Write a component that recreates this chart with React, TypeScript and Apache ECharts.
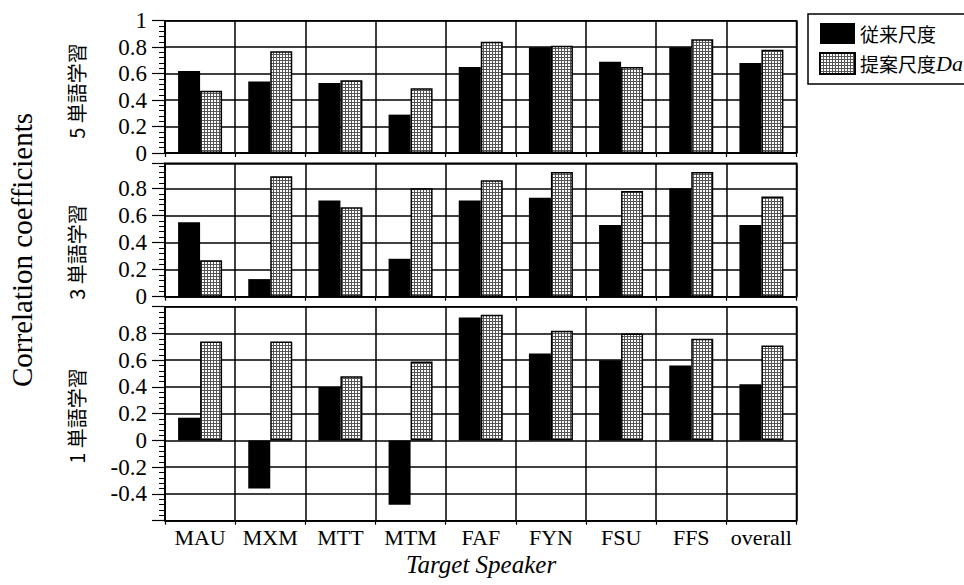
import React, { useEffect, useRef } from 'react';
import * as echarts from 'echarts';

const categories = ['MAU', 'MXM', 'MTT', 'MTM', 'FAF', 'FYN', 'FSU', 'FFS', 'overall'];
const seriesNames = ['従来尺度', '提案尺度Da'];
const panelLabels = ['5 単語学習', '3 単語学習', '1 単語学習'];

// 5-word training
const conventional5 = [0.62, 0.54, 0.53, 0.29, 0.65, 0.80, 0.69, 0.80, 0.68];
const proposed5 = [0.47, 0.77, 0.55, 0.49, 0.84, 0.81, 0.65, 0.86, 0.78];
// 3-word training
const conventional3 = [0.55, 0.13, 0.71, 0.28, 0.71, 0.73, 0.53, 0.80, 0.53];
const proposed3 = [0.27, 0.89, 0.66, 0.80, 0.86, 0.92, 0.78, 0.92, 0.74];
// 1-word training
const conventional1 = [0.17, -0.36, 0.40, -0.48, 0.92, 0.65, 0.60, 0.56, 0.42];
const proposed1 = [0.74, 0.74, 0.48, 0.59, 0.94, 0.82, 0.80, 0.76, 0.71];

const yMins = [0, 0, -0.6];
const yMaxs = [1, 0.985, 1];

const yTitle = 'Correlation coefficients';
const xTitle = 'Target Speaker';

const SERIF = "'Liberation Serif', 'Times New Roman', serif";
const CJK = "'Noto Sans CJK JP', 'Noto Sans', sans-serif";

export default function App() {
  const ref = useRef<HTMLDivElement>(null);

  useEffect(() => {
    document.body.style.margin = '0';
    const chart = echarts.init(ref.current as HTMLDivElement, undefined, { renderer: 'svg' });

    const cv = document.createElement('canvas');
    cv.width = 3;
    cv.height = 3;
    const ctx = cv.getContext('2d') as CanvasRenderingContext2D;
    ctx.fillStyle = '#ffffff';
    ctx.fillRect(0, 0, 3, 3);
    ctx.fillStyle = '#555555';
    ctx.fillRect(0, 0, 3, 1);
    ctx.fillRect(0, 0, 1, 3);
    const pattern: any = { image: cv, repeat: 'repeat' };

    const grids = [
      { left: 165, top: 20.7, width: 631.5, height: 132.3 },
      { left: 165, top: 163.3, width: 631.5, height: 133.4 },
      { left: 165, top: 306.7, width: 631.5, height: 214 },
    ].map((g) => ({ ...g, show: true, borderColor: '#000', borderWidth: 1.5, backgroundColor: 'transparent' }));

    const panelData = [
      [conventional5, proposed5],
      [conventional3, proposed3],
      [conventional1, proposed1],
    ];

    const xAxes = [0, 1, 2].map((i) => ({
      gridIndex: i,
      type: 'category',
      data: categories,
      axisLine: { show: true, onZero: false, lineStyle: { color: '#000', width: 1.5 } },
      axisTick: { show: true, length: 4, lineStyle: { color: '#000', width: 1.2 } },
      axisLabel: {
        show: i === 2,
        interval: 0,
        color: '#000',
        fontFamily: SERIF,
        fontSize: 22,
        margin: 6,
      },
      splitLine: { show: true, interval: 0, lineStyle: { color: '#000', width: 1.5 } },
    }));

    const yAxes = [0, 1, 2].map((i) => ({
      gridIndex: i,
      type: 'value',
      min: yMins[i],
      max: yMaxs[i],
      interval: 0.2,
      axisLine: { show: true, lineStyle: { color: '#000', width: 1.5 } },
      axisTick: { show: true, length: 13, lineStyle: { color: '#000', width: 1.2 } },
      minorTick: { show: true, splitNumber: 5, length: 6, lineStyle: { color: '#000', width: 1 } },
      splitLine: { show: true, lineStyle: { color: '#000', width: 1.5 } },
      axisLabel: {
        color: '#000',
        fontFamily: SERIF,
        fontSize: 23,
        margin: 18,
        showMinLabel: i !== 2,
        showMaxLabel: i === 0,
      },
    }));

    const series: any[] = [];
    panelData.forEach((pair, i) => {
      series.push({
        type: 'bar',
        name: seriesNames[0],
        xAxisIndex: i,
        yAxisIndex: i,
        data: pair[0],
        barWidth: 22,
        barGap: '0%',
        itemStyle: { color: '#000' },
      });
      series.push({
        type: 'bar',
        name: seriesNames[1],
        xAxisIndex: i,
        yAxisIndex: i,
        data: pair[1],
        barWidth: 22,
        barGap: '0%',
        itemStyle: { color: pattern, borderColor: '#000', borderWidth: 1.5 },
      });
    });

    const panelLabelY = [91, 252, 416];

    chart.setOption({
      animation: false,
      grid: grids,
      xAxis: xAxes,
      yAxis: yAxes,
      series,
      legend: {
        data: seriesNames,
        orient: 'vertical',
        left: 808,
        top: 14,
        itemWidth: 35,
        itemHeight: 21,
        itemGap: 8,
        padding: [9, 40, 9, 11],
        borderColor: '#000',
        borderWidth: 1.5,
        icon: 'rect',
        formatter: (name: string) =>
          name.replace(/^([^A-Za-z]+)([A-Za-z]*)$/, (_m: string, a: string, b: string) =>
            '{n|' + a + '}' + (b ? '{i|' + b + '}' : '')
          ),
        textStyle: {
          color: '#000',
          rich: {
            n: { fontFamily: CJK, fontSize: 19, color: '#000' },
            i: { fontFamily: SERIF, fontStyle: 'italic', fontSize: 22, color: '#000' },
          },
        },
      },
      graphic: [
        {
          type: 'text',
          x: 22,
          y: 250,
          rotation: Math.PI / 2,
          style: {
            text: yTitle,
            fontFamily: SERIF,
            fontSize: 29,
            fill: '#000',
            align: 'center',
            verticalAlign: 'middle',
          },
        },
        ...panelLabels.map((t, i) => ({
          type: 'text',
          x: 76,
          y: panelLabelY[i],
          rotation: Math.PI / 2,
          style: {
            text: t,
            fontFamily: CJK,
            fontSize: 20,
            fill: '#000',
            align: 'center',
            verticalAlign: 'middle',
          },
        })),
        {
          type: 'text',
          x: 481,
          y: 564,
          style: {
            text: xTitle,
            fontFamily: SERIF,
            fontStyle: 'italic',
            fontSize: 25,
            fill: '#000',
            align: 'center',
            verticalAlign: 'middle',
          },
        },
      ],
    });

    return () => {
      chart.dispose();
    };
  }, []);

  return <div ref={ref} style={{ width: 964, height: 585 }} />;
}
